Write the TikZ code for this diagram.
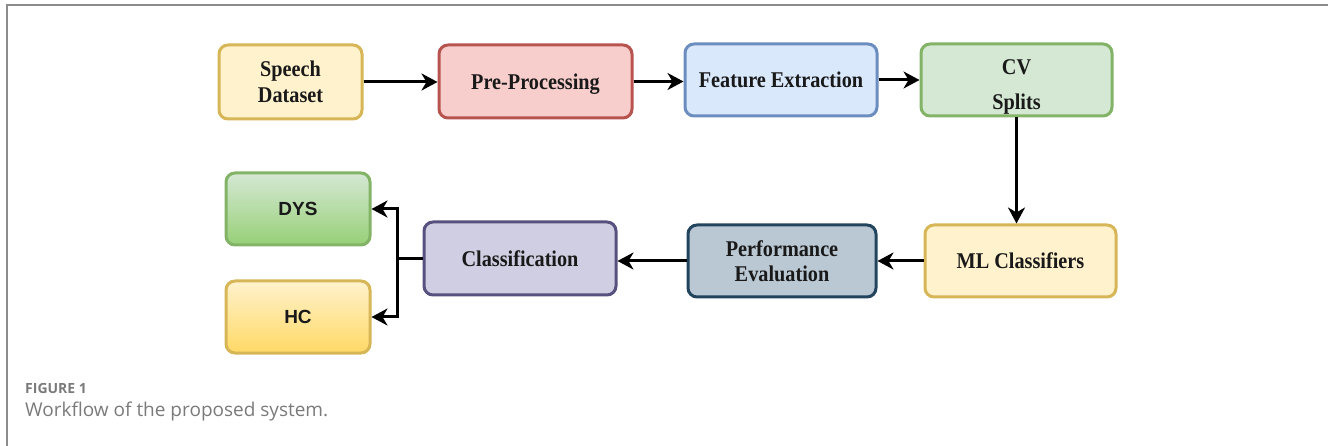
\documentclass[tikz,border=0pt]{standalone}
\usepackage{fontspec}
\setmainfont{Liberation Serif}
\newfontfamily\boxf[FakeStretch=0.9]{Liberation Serif}
\newfontfamily\arialf{Liberation Sans}
\newfontfamily\capf{Open Sans}
\usetikzlibrary{arrows.meta}
\definecolor{yfill}{HTML}{FFF2CC}\definecolor{ydraw}{HTML}{D6B656}
\definecolor{rfill}{HTML}{F8CECC}\definecolor{rdraw}{HTML}{B85450}
\definecolor{bfill}{HTML}{DAE8FC}\definecolor{bdraw}{HTML}{6C8EBF}
\definecolor{gfill}{HTML}{D5E8D4}\definecolor{gdraw}{HTML}{82B366}
\definecolor{sfill}{HTML}{BAC8D3}\definecolor{sdraw}{HTML}{23445D}
\definecolor{pfill}{HTML}{D0CEE2}\definecolor{pdraw}{HTML}{56517E}
\definecolor{gbot}{HTML}{97D077}\definecolor{ybot}{HTML}{FFD966}
\definecolor{framec}{HTML}{8C8C8C}\definecolor{capc}{HTML}{7A7A7A}
\tikzset{
  box/.style={draw, line width=3pt, rounded corners=9pt, align=center, inner sep=0pt,
    font=\boxf\fontsize{22.5}{26}\selectfont\bfseries, text=black!90},
  sbox/.style={box, font=\arialf\fontsize{19}{22}\selectfont\bfseries},
  conn/.style={line width=3pt, -{Stealth[length=16pt,width=17pt,inset=5pt]}},
  plain/.style={line width=3pt},
}
\begin{document}
\begin{tikzpicture}[x=1pt,y=-1pt]
\useasboundingbox (0,0) rectangle (1328,446);
\draw[framec, line width=2pt] (6.5,446) -- (6.5,5.5) -- (1328,5.5);
% top row
\node[box, fill=yfill, draw=ydraw, minimum width=143pt, minimum height=74pt] (sd) at (290.5,82) {Speech\\Dataset};
\node[box, fill=rfill, draw=rdraw, minimum width=193pt, minimum height=73pt] (pp) at (535.5,81.5) {\rule{0pt}{20pt}Pre-Processing};
\node[box, fill=bfill, draw=bdraw, minimum width=192pt, minimum height=72pt] (fe) at (781,80) {Feature Extraction};
\node[box, fill=gfill, draw=gdraw, minimum width=191pt, minimum height=72pt, font=\boxf\fontsize{22.5}{35}\selectfont\bfseries] (cv) at (1016.5,80) {\rule{0pt}{28pt}CV\\Splits};
% bottom row
\node[box, fill=yfill, draw=ydraw, minimum width=191pt, minimum height=72pt] (ml) at (1020.5,261) {ML Classifiers};
\node[box, fill=sfill, draw=sdraw, minimum width=188pt, minimum height=72pt, font=\boxf\fontsize{22.5}{25}\selectfont\bfseries] (pe) at (782,261) {Performance\\Evaluation};
\node[box, fill=pfill, draw=pdraw, minimum width=192pt, minimum height=73pt] (cl) at (520,258.5) {Classification};
\node[sbox, top color=gfill, bottom color=gbot, draw=gdraw, minimum width=144pt, minimum height=72pt] (dys) at (298,209) {DYS};
\node[sbox, top color=yfill, bottom color=ybot, draw=ydraw, minimum width=144pt, minimum height=72pt] (hc) at (298,317) {HC};
% connectors
\draw[conn] (sd.east) -- (sd.east -| pp.west);
\draw[conn] (pp.east) -- (pp.east -| fe.west);
\draw[conn] (fe.east) -- (cv.west);
\draw[conn] (cv.south) -- (cv.south |- ml.north);
\draw[conn] (ml.west) -- (pe.east |- ml.west);
\draw[conn] (pe.west) -- (cl.east |- pe.west);
\coordinate (jn) at (397,258.5);
\draw[plain] (cl.west) -- (jn);
\draw[conn] (jn) |- (dys.east);
\draw[conn] (jn) |- (hc.east);
% caption
\node[anchor=base west, inner sep=0pt, text=capc, font=\capf\fontsize{14}{16}\selectfont\bfseries] (fig) at (25,393) {FIGURE 1};
\node[anchor=base west, inner sep=0pt, text=capc, font=\capf\fontsize{19}{22}\selectfont] (cap) at (25,416) {Workflow of the proposed system.};
\end{tikzpicture}
\end{document}
